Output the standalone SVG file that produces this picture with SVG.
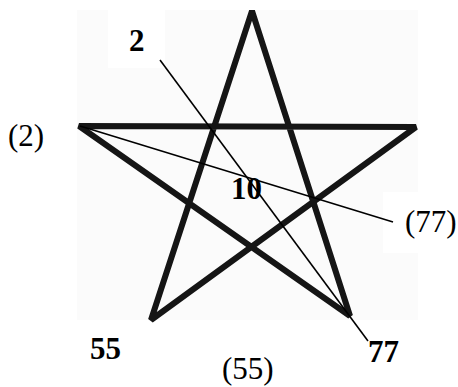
<svg xmlns="http://www.w3.org/2000/svg" width="458" height="387" viewBox="0 0 458 387">
<style>
.star{fill:none;stroke:#151515;stroke-width:6;stroke-linejoin:bevel}
.thin{stroke:#000;stroke-width:1.6;fill:none}
.b{font-family:"Liberation Serif",serif;font-weight:bold;font-size:31px;fill:#000}
.r{font-family:"Liberation Serif",serif;font-size:31px;fill:#000}
</style>
<rect width="458" height="387" fill="#fff"/>
<g id="background">
<rect x="77" y="10" width="341" height="310" fill="#fbfbfb"/>
<rect x="108" y="10" width="57" height="58" fill="#fff"/>
<rect x="383" y="192" width="75" height="61" fill="#fff"/>
</g>
<g id="star">
<path class="star" d="M252,11 L151,320 L416,127 L79,126 L350,316 Z"/>
</g>
<g id="connectors">
<line class="thin" x1="160" y1="60" x2="368" y2="341"/>
<line class="thin" x1="80" y1="126" x2="393" y2="222"/>
</g>
<g id="label-2"><text class="b" x="129" y="51">2</text></g>
<g id="label-p2"><text class="r" x="8" y="146">(2)</text></g>
<g id="label-10"><text class="b" x="231" y="199">10</text></g>
<g id="label-p77"><text class="r" x="405" y="232">(77)</text></g>
<g id="label-55"><text class="b" x="90" y="359">55</text></g>
<g id="label-p55"><text class="r" x="222" y="379">(55)</text></g>
<g id="label-77"><text class="b" x="368" y="362">77</text></g>
</svg>
